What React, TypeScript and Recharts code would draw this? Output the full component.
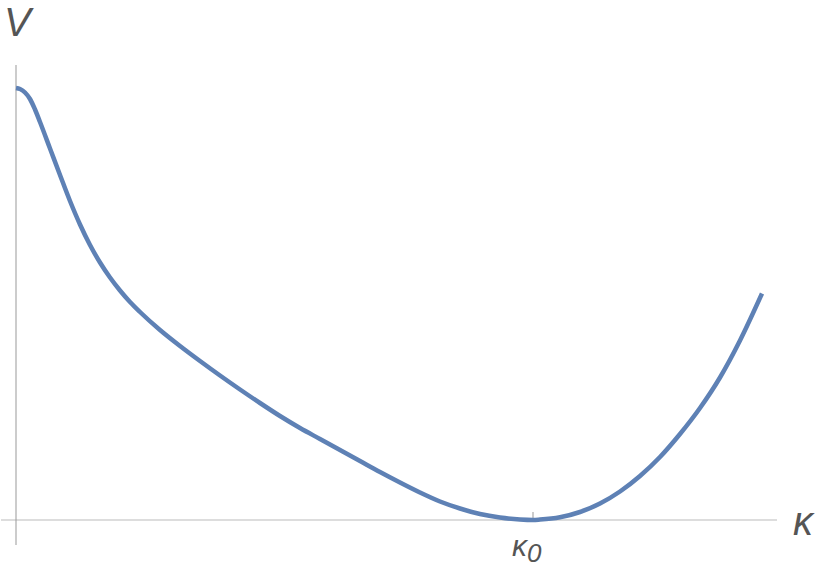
import React from "react";
import { LineChart, Line, XAxis, YAxis, ReferenceLine } from "recharts";

// curve (κ, V), arbitrary units
const kappa = [
  0, 4, 9, 14, 19, 24, 34, 44, 54, 64, 74, 84, 94, 104, 114, 124, 144, 164,
  184, 204, 224, 244, 264, 284, 304, 324, 344, 364, 384, 404, 424, 444, 464,
  484, 504, 517, 524, 544, 564, 584, 604, 624, 644, 664, 684, 704, 724, 746,
];
const potential = [
  432, 431, 427.5, 421, 410.5, 398, 371.5, 345, 319, 295.5, 275, 257.5, 242.5,
  229.5, 218, 208, 190, 174, 159, 144.5, 130.5, 117, 104, 92, 81, 70, 59, 48,
  37.5, 27.5, 18.5, 11.5, 6, 2.5, 0.5, 0, 0.4, 2.7, 8, 16.5, 28.5, 44, 63, 86,
  112, 142.5, 179.5, 226.5,
];
const kappa0 = 517;

const data = kappa.map((k, i) => ({ k, v: potential[i] }));

const labelStyle: React.CSSProperties = {
  position: "absolute",
  fontFamily: "'Liberation Sans', Arial, sans-serif",
  fontStyle: "italic",
  color: "#555",
  lineHeight: 1,
};

export default function App() {
  return (
    <div style={{ position: "absolute", left: 0, top: 0, width: 830, height: 568 }}>
      <LineChart
        width={830}
        height={568}
        data={data}
        margin={{ top: 65, right: 53, bottom: 23, left: 1 }}
      >
        <XAxis dataKey="k" type="number" domain={[-15, 761]} hide />
        <YAxis type="number" domain={[-25, 455]} hide />
        <ReferenceLine y={0} stroke="#bbb" strokeWidth={1} />
        <ReferenceLine x={0} stroke="#999" strokeWidth={1} />
        <ReferenceLine
          segment={[
            { x: kappa0, y: 0 },
            { x: kappa0, y: 8 },
          ]}
          stroke="#999"
        />
        <Line
          type="monotone"
          dataKey="v"
          stroke="#5E81B5"
          strokeWidth={4.5}
          dot={false}
          isAnimationActive={false}
        />
      </LineChart>
      <div style={{ ...labelStyle, left: 4, top: 2, fontSize: 40 }}>V</div>
      <div style={{ ...labelStyle, left: 793, top: 501, fontSize: 40 }}>κ</div>
      <div style={{ ...labelStyle, left: 512, top: 531, fontSize: 30 }}>
        κ<span style={{ fontSize: 26, verticalAlign: "-6px" }}>0</span>
      </div>
    </div>
  );
}
